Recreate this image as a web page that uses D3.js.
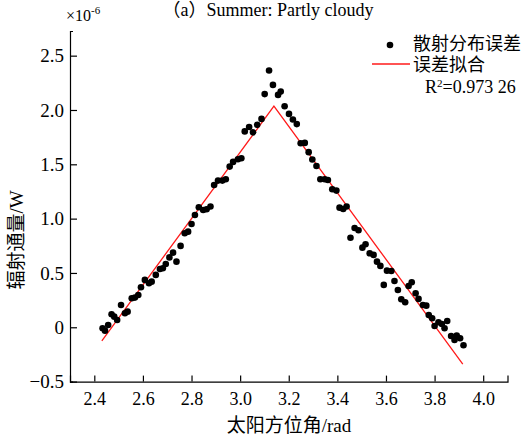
<!DOCTYPE html>
<html>
<head>
<meta charset="utf-8">
<script src="https://cdn.jsdelivr.net/npm/d3@7"></script>
<style>
  body { margin: 0; background: #fff; }
  text { fill: #000; }
</style>
</head>
<body>
<div id="chart-area"></div>
<script>
// scatter: solar azimuth (rad) vs radiant flux error (x1e-6 W)
var angle = [2.434, 2.444, 2.457, 2.471, 2.482, 2.494, 2.510, 2.526, 2.537, 2.554,
             2.567, 2.581, 2.592, 2.608, 2.625, 2.636, 2.653, 2.670, 2.682, 2.694,
             2.709, 2.724, 2.738, 2.755, 2.772, 2.786, 2.800, 2.814, 2.830, 2.848,
             2.862, 2.878, 2.893, 2.909, 2.927, 2.941, 2.957, 2.971, 2.991, 3.005,
             3.019, 3.037, 3.053, 3.070, 3.088, 3.101, 3.119, 3.135, 3.156, 3.167,
             3.183, 3.201, 3.217, 3.233, 3.249, 3.266, 3.282, 3.297, 3.314, 3.330,
             3.348, 3.361, 3.379, 3.396, 3.409, 3.424, 3.438, 3.454, 3.471, 3.487,
             3.503, 3.516, 3.533, 3.549, 3.563, 3.577, 3.591, 3.604, 3.622, 3.635,
             3.649, 3.663, 3.679, 3.693, 3.706, 3.722, 3.734, 3.752, 3.766, 3.776,
             3.790, 3.800, 3.816, 3.830, 3.841, 3.852, 3.868, 3.882, 3.891, 3.905,
             3.919];
var flux = [-0.009, -0.031, 0.021, 0.120, 0.098, 0.067, 0.205, 0.129, 0.144, 0.267,
            0.273, 0.297, 0.368, 0.436, 0.405, 0.420, 0.482, 0.537, 0.543, 0.583,
            0.643, 0.687, 0.604, 0.749, 0.866, 0.880, 0.951, 1.034, 1.105, 1.080,
            1.087, 1.111, 1.310, 1.350, 1.350, 1.363, 1.479, 1.522, 1.547, 1.556,
            1.803, 1.844, 1.794, 1.863, 1.918, 2.146, 2.363, 2.231, 2.139, 2.169,
            2.035, 1.964, 1.912, 1.870, 1.694, 1.697, 1.612, 1.544, 1.485, 1.363,
            1.363, 1.356, 1.271, 1.258, 1.101, 1.089, 1.111, 0.824, 0.914, 0.893,
            0.733, 0.764, 0.681, 0.666, 0.604, 0.565, 0.390, 0.521, 0.518, 0.426,
            0.343, 0.258, 0.230, 0.380, 0.414, 0.313, 0.261, 0.205, 0.199, 0.113,
            0.083, 0.012, 0.046, 0.030, -0.009, 0.058, -0.080, -0.117, -0.077, -0.101,
            -0.166];

// fitted piecewise line
var fitAngle = [2.431, 3.139, 3.916];
var fitFlux = [-0.126, 2.035, -0.34];

var xTicks = [2.4, 2.6, 2.8, 3.0, 3.2, 3.4, 3.6, 3.8, 4.0];
var yTicks = [-0.5, 0, 0.5, 1.0, 1.5, 2.0, 2.5];

var svg = d3.select("#chart-area")
    .append("svg")
        .attr("width", 532)
        .attr("height", 440);

var serif = "'Liberation Serif', 'Times New Roman', serif";
var cjk = "'Liberation Serif', 'Noto Sans CJK SC', sans-serif";

var x = d3.scaleLinear()
    .domain([2.3, 4.1])
    .range([70, 507.5]);

var y = d3.scaleLinear()
    .domain([-0.5, 2.727])
    .range([381.6, 31]);

// x axis
var xAxisCall = d3.axisBottom(x)
    .tickValues(xTicks)
    .tickSize(-6)
    .tickSizeOuter(-6)
    .tickPadding(11)
    .tickFormat(d3.format(".1f"));

var xAxisGroup = svg.append("g")
    .attr("class", "x axis")
    .attr("transform", "translate(0," + y(-0.5) + ")")
    .call(xAxisCall);

// y axis
var yAxisCall = d3.axisLeft(y)
    .tickValues(yTicks)
    .tickSize(-7)
    .tickSizeOuter(-3)
    .tickPadding(6)
    .tickFormat(function(d){
        return d === 0 ? "0" : d3.format(".1f")(d);
    });

var yAxisGroup = svg.append("g")
    .attr("class", "y axis")
    .attr("transform", "translate(" + x(2.3) + ",0)")
    .call(yAxisCall);

svg.selectAll(".axis path, .axis line")
    .attr("stroke", "#000")
    .attr("stroke-width", 1.2);
svg.selectAll(".axis text")
    .attr("fill", "#000")
    .attr("font-family", serif)
    .attr("font-size", "19px");
xAxisGroup.selectAll("text").attr("font-size", "18px");

// fit line
var line = d3.line()
    .x(function(d){ return x(d[0]); })
    .y(function(d){ return y(d[1]); });

svg.append("path")
    .datum(d3.zip(fitAngle, fitFlux))
    .attr("d", line)
    .attr("fill", "none")
    .attr("stroke", "#ff1a1a")
    .attr("stroke-width", 1.3);

// scatter points
svg.selectAll("circle.pt")
    .data(d3.zip(angle, flux))
    .enter()
    .append("circle")
        .attr("class", "pt")
        .attr("cx", function(d){ return x(d[0]); })
        .attr("cy", function(d){ return y(d[1]); })
        .attr("r", 3.3)
        .attr("fill", "#000");

// title
svg.append("text")
    .attr("x", 268)
    .attr("y", 16)
    .attr("text-anchor", "middle")
    .attr("font-family", cjk)
    .attr("font-size", "18px")
    .text("（a）Summer: Partly cloudy");

// exponent
var expo = svg.append("text")
    .attr("x", 66)
    .attr("y", 21)
    .attr("font-family", serif)
    .attr("font-size", "16px");
expo.append("tspan").text("×10");
expo.append("tspan")
    .attr("dy", -7)
    .attr("font-size", "11px")
    .text("-6");

// axis labels
svg.append("text")
    .attr("x", 289)
    .attr("y", 432)
    .attr("text-anchor", "middle")
    .attr("font-family", cjk)
    .attr("font-size", "19px")
    .text("太阳方位角/rad");

svg.append("text")
    .attr("transform", "translate(23,240) rotate(-90)")
    .attr("text-anchor", "middle")
    .attr("font-family", cjk)
    .attr("font-size", "19px")
    .text("辐射通量/W");

// legend
svg.append("circle")
    .attr("cx", 390)
    .attr("cy", 45)
    .attr("r", 3.3)
    .attr("fill", "#000");
svg.append("text")
    .attr("x", 413)
    .attr("y", 50)
    .attr("font-family", cjk)
    .attr("font-size", "18px")
    .text("散射分布误差");

svg.append("line")
    .attr("x1", 372)
    .attr("x2", 410)
    .attr("y1", 64)
    .attr("y2", 64)
    .attr("stroke", "#ff1a1a")
    .attr("stroke-width", 1.3);
svg.append("text")
    .attr("x", 413)
    .attr("y", 71)
    .attr("font-family", cjk)
    .attr("font-size", "18px")
    .text("误差拟合");

var r2 = svg.append("text")
    .attr("x", 425)
    .attr("y", 93)
    .attr("font-family", serif)
    .attr("font-size", "18px");
r2.append("tspan").text("R");
r2.append("tspan")
    .attr("dy", -6)
    .attr("font-size", "11px")
    .text("2");
r2.append("tspan")
    .attr("dy", 6)
    .text("=0.973 26");
</script>
</body>
</html>
